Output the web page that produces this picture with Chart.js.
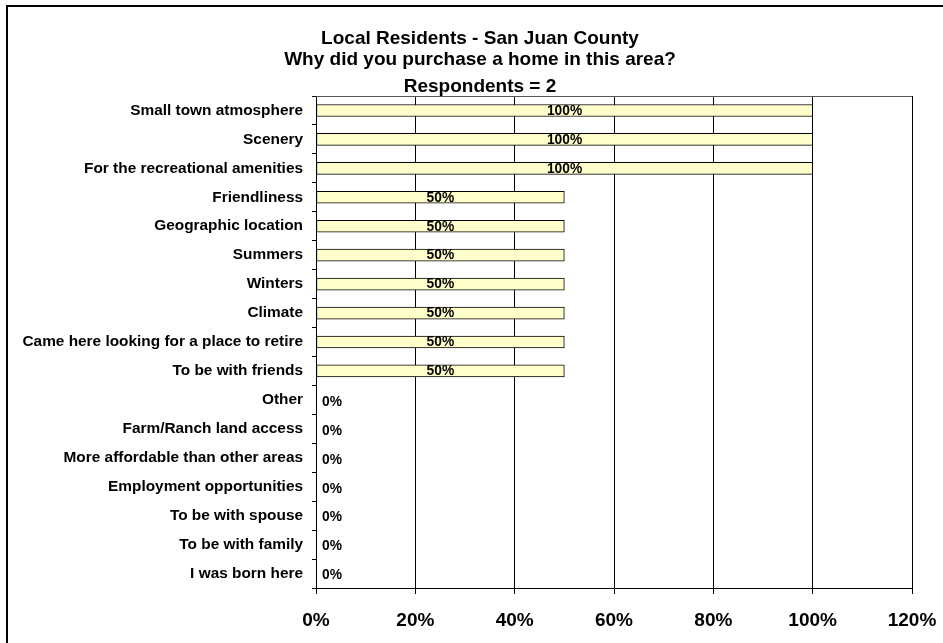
<!DOCTYPE html>
<html>
<head>
<meta charset="utf-8">
<script src="https://cdn.jsdelivr.net/npm/chart.js@4"></script>
<style>
  html, body { margin: 0; padding: 0; background: #fff; overflow: hidden; }
  #wrap { position: relative; width: 943px; height: 643px; overflow: hidden; }
  #frame { position: absolute; left: 6px; top: 5px; width: 1000px; height: 700px; border: 2px solid #000; box-sizing: border-box; pointer-events: none; }
  canvas { position: absolute; left: 0; top: 0; }
</style>
</head>
<body>
<div id="wrap">
  <canvas id="c" width="943" height="643"></canvas>
  <div id="frame"></div>
</div>
<script>
const titleLines = ['Local Residents - San Juan County', 'Why did you purchase a home in this area?'];
const subtitleText = 'Respondents = 2';

const categories = [
  'Small town atmosphere',
  'Scenery',
  'For the recreational amenities',
  'Friendliness',
  'Geographic location',
  'Summers',
  'Winters',
  'Climate',
  'Came here looking for a place to retire',
  'To be with friends',
  'Other',
  'Farm/Ranch land access',
  'More affordable than other areas',
  'Employment opportunities',
  'To be with spouse',
  'To be with family',
  'I was born here'
];
const values = [100, 100, 100, 50, 50, 50, 50, 50, 50, 50, 0, 0, 0, 0, 0, 0, 0];
const xMin = 0;
const xMax = 120;
const xStep = 20;

const FONT = '"Liberation Sans", Arial, Helvetica, sans-serif';
Chart.defaults.font.family = FONT;
Chart.defaults.color = '#000';

const valueLabels = {
  id: 'valueLabels',
  afterDatasetsDraw(chart) {
    const ctx = chart.ctx;
    const meta = chart.getDatasetMeta(0);
    ctx.save();
    ctx.font = 'bold 13.8px ' + FONT;
    ctx.fillStyle = '#000';
    ctx.textAlign = 'center';
    ctx.textBaseline = 'middle';
    meta.data.forEach((bar, i) => {
      const v = values[i];
      const x = v > 0 ? (bar.x + bar.base) / 2 : bar.base + 16;
      const y = bar.y + (v > 0 ? 0.5 : 2);
      ctx.fillText(v + '%', x, y);
    });
    ctx.restore();
  }
};

const plotFrame = {
  id: 'plotFrame',
  afterDraw(chart) {
    const a = chart.chartArea;
    const ctx = chart.ctx;
    ctx.save();
    ctx.strokeStyle = '#555';
    ctx.lineWidth = 1;
    ctx.beginPath();
    ctx.moveTo(Math.round(a.left), Math.round(a.top) + 0.5);
    ctx.lineTo(Math.round(a.right), Math.round(a.top) + 0.5);
    ctx.stroke();
    ctx.restore();
  }
};

// centre the title block over the whole chart object rather than the padded area
const titleShift = {
  id: 'titleShift',
  afterLayout(chart) {
    chart.boxes.forEach(b => {
      if (b.fullSize && b.position === 'top') { b.left += 24; b.right += 24; }
    });
  }
};

new Chart(document.getElementById('c'), {
  type: 'bar',
  data: {
    labels: categories,
    datasets: [{
      data: values,
      backgroundColor: '#FFFFCC',
      borderColor: '#000',
      borderWidth: 1,
      borderSkipped: false,
      barThickness: 12
    }]
  },
  options: {
    indexAxis: 'y',
    responsive: false,
    animation: false,
    devicePixelRatio: 1,
    layout: { padding: { left: 0, right: 31, top: 0, bottom: 0 } },
    plugins: {
      legend: { display: false },
      tooltip: { enabled: false },
      title: {
        display: true,
        text: titleLines,
        color: '#000',
        font: { size: 19, weight: 'bold', lineHeight: 1.15 },
        padding: { top: 27.4, bottom: 5.7 }
      },
      subtitle: {
        display: true,
        text: subtitleText,
        color: '#000',
        font: { size: 19, weight: 'bold', lineHeight: 1.0 },
        padding: { top: 0, bottom: 0.2 }
      }
    },
    scales: {
      x: {
        type: 'linear',
        min: xMin,
        max: xMax,
        ticks: {
          stepSize: xStep,
          padding: 15.6,
          font: { size: 19, weight: 'bold' },
          color: '#000',
          callback: v => v + '%'
        },
        grid: { color: '#000', lineWidth: 1, tickLength: 6, drawTicks: true },
        border: { color: '#000', width: 1 },
        afterFit(scale) { scale.paddingLeft = 0; scale.paddingRight = 0; scale.height = 55; }
      },
      y: {
        type: 'category',
        ticks: {
          padding: 9,
          font: { size: 15.4, weight: 'bold' },
          color: '#000',
          autoSkip: false
        },
        grid: { display: true, drawOnChartArea: false, drawTicks: true, tickLength: 4, color: '#000', offset: true },
        border: { color: '#000', width: 1 },
        afterFit(scale) { scale.width = 316; scale.paddingTop = 0; scale.paddingBottom = 0; }
      }
    }
  },
  plugins: [valueLabels, plotFrame, titleShift]
});
</script>
</body>
</html>
